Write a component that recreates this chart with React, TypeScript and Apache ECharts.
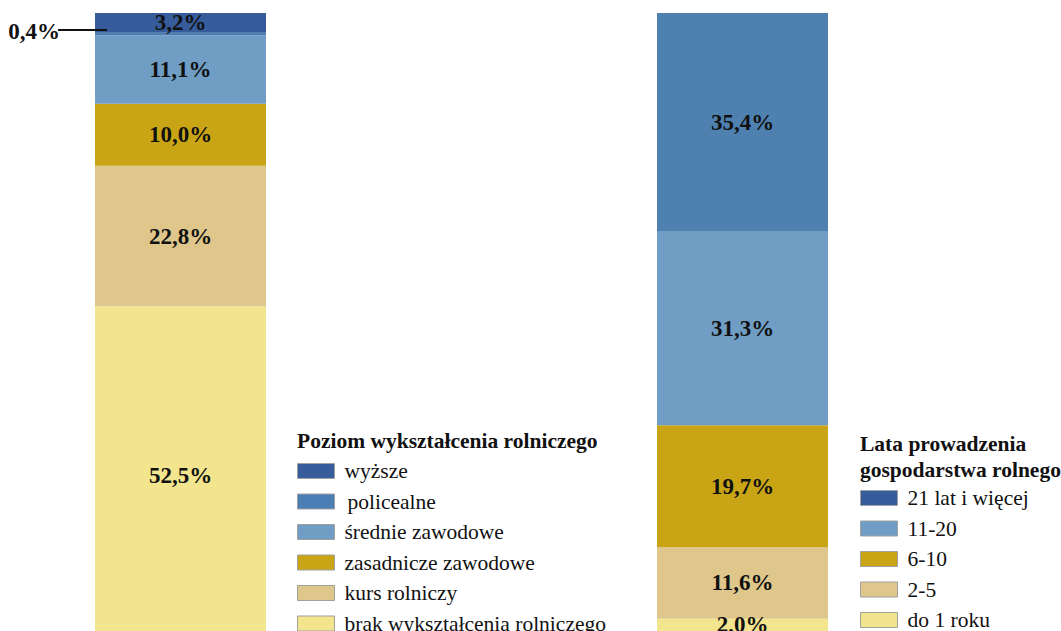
import React, { useEffect, useRef } from "react";
import * as echarts from "echarts";

const SERIF = "Liberation Serif";

const educationNames = [
  "brak wykształcenia rolniczego",
  "kurs rolniczy",
  "zasadnicze zawodowe",
  "średnie zawodowe",
  "policealne",
  "wyższe",
];
const educationValues = [52.5, 22.8, 10.0, 11.1, 0.4, 3.2];
const educationColors = ["#f3e58d", "#dfc78c", "#c9a516", "#6f9dc4", "#4a7fb5", "#375c9b"];

const yearsNames = ["do 1 roku", "2-5", "6-10", "11-20", "21 lat i więcej"];
const yearsValues = [2.0, 11.6, 19.7, 31.3, 35.4];
const yearsColors = ["#f3e58d", "#dfc78c", "#c9a516", "#6f9dc4", "#4e81b0"];
const yearsLegendColors = ["#f3e58d", "#dfc78c", "#c9a516", "#6f9dc4", "#375c9b"];

const fmt = (v: number) => v.toFixed(1).replace(".", ",") + "%";

export default function App() {
  const ref = useRef<HTMLDivElement>(null);
  useEffect(() => {
    if (!ref.current) return;
    const chart = echarts.init(ref.current, undefined, { renderer: "svg" });
    const labelBase = {
      show: true,
      position: "inside" as const,
      fontFamily: SERIF,
      fontWeight: "bold" as const,
      fontSize: 23,
      color: "#111",
      formatter: (p: any) => fmt(p.value),
    };
    const leftSeries = educationNames.map((name, i) => ({
      name,
      type: "bar",
      stack: "edu",
      xAxisIndex: 0,
      yAxisIndex: 0,
      barWidth: "100%",
      data: [educationValues[i]],
      itemStyle: { color: educationColors[i] },
      label:
        name === "policealne"
          ? { ...labelBase, position: "left", distance: 35, offset: [0, -3] }
          : i === 0
          ? { ...labelBase, offset: [0, 7] }
          : { ...labelBase, offset: [0, 0] },
    }));
    const rightSeries = yearsNames.map((name, i) => ({
      name,
      type: "bar",
      stack: "years",
      xAxisIndex: 1,
      yAxisIndex: 1,
      barWidth: "100%",
      data: [yearsValues[i]],
      itemStyle: { color: yearsColors[i] },
      label: { ...labelBase, offset: [0, 0] },
    }));
    const legendText = { fontFamily: SERIF, fontSize: 21.5, color: "#111", padding: [0, 0, 0, 5] };
    chart.setOption({
      animation: false,
      backgroundColor: "#ffffff",
      title: [
        {
          text: "Poziom wykształcenia rolniczego",
          left: 297,
          top: 430,
          padding: 0,
          textStyle: { fontFamily: SERIF, fontWeight: "bold", fontSize: 21.5, color: "#111", lineHeight: 22 },
        },
        {
          text: "Lata prowadzenia\ngospodarstwa rolnego",
          left: 860,
          top: 431,
          padding: 0,
          textStyle: { fontFamily: SERIF, fontWeight: "bold", fontSize: 21.5, color: "#111", lineHeight: 26 },
        },
      ],
      legend: [
        {
          orient: "vertical",
          left: 297,
          top: 460,
          height: 300,
          padding: 0,
          itemWidth: 37,
          itemHeight: 15,
          itemGap: 8.5,
          icon: "rect",
          selectedMode: false,
          itemStyle: { borderColor: "#a0a0a0", borderWidth: 1 },
          textStyle: legendText,
          data: educationNames
            .slice()
            .reverse()
            .map((n) => (n === "policealne" ? { name: n, textStyle: { ...legendText, padding: [0, 0, 0, 8] } } : { name: n })),
        },
        {
          orient: "vertical",
          left: 860,
          top: 487,
          height: 300,
          padding: 0,
          itemWidth: 37,
          itemHeight: 15,
          itemGap: 8.5,
          icon: "rect",
          selectedMode: false,
          itemStyle: { borderColor: "#a0a0a0", borderWidth: 1 },
          textStyle: legendText,
          data: yearsNames
            .map((n, i) => ({ name: n, itemStyle: { color: yearsLegendColors[i], borderColor: "#a0a0a0", borderWidth: 1 } }))
            .reverse(),
        },
      ],
      grid: [
        { left: 95, top: 13, width: 171, height: 620 },
        { left: 657, top: 13, width: 171, height: 620 },
      ],
      xAxis: [
        { type: "category", gridIndex: 0, data: ["A"], show: false },
        { type: "category", gridIndex: 1, data: ["B"], show: false },
      ],
      yAxis: [
        { type: "value", gridIndex: 0, min: 0, max: 100, show: false },
        { type: "value", gridIndex: 1, min: 0, max: 100, show: false },
      ],
      series: [...leftSeries, ...rightSeries],
    });
    // leader line for the small "policealne" segment
    const below = educationValues.slice(0, 4).reduce((a, b) => a + b, 0);
    const mid = below + educationValues[4] / 2;
    const pt = chart.convertToPixel({ gridIndex: 0 }, [0, mid]) as number[];
    const rect = (chart as any).getModel().getComponent("grid", 0).coordinateSystem.getRect();
    const barLeft = rect.x;
    chart.setOption({
      graphic: [
        {
          type: "line",
          shape: { x1: barLeft - 37, y1: pt[1] - 4, x2: barLeft + 12, y2: pt[1] - 4 },
          style: { stroke: "#111", lineWidth: 1.8 },
          z: 100,
        },
      ],
    });
    return () => chart.dispose();
  }, []);
  return (
    <div
      ref={ref}
      style={{ position: "fixed", left: 0, top: 0, width: 1061, height: 631, background: "#fff" }}
    />
  );
}
